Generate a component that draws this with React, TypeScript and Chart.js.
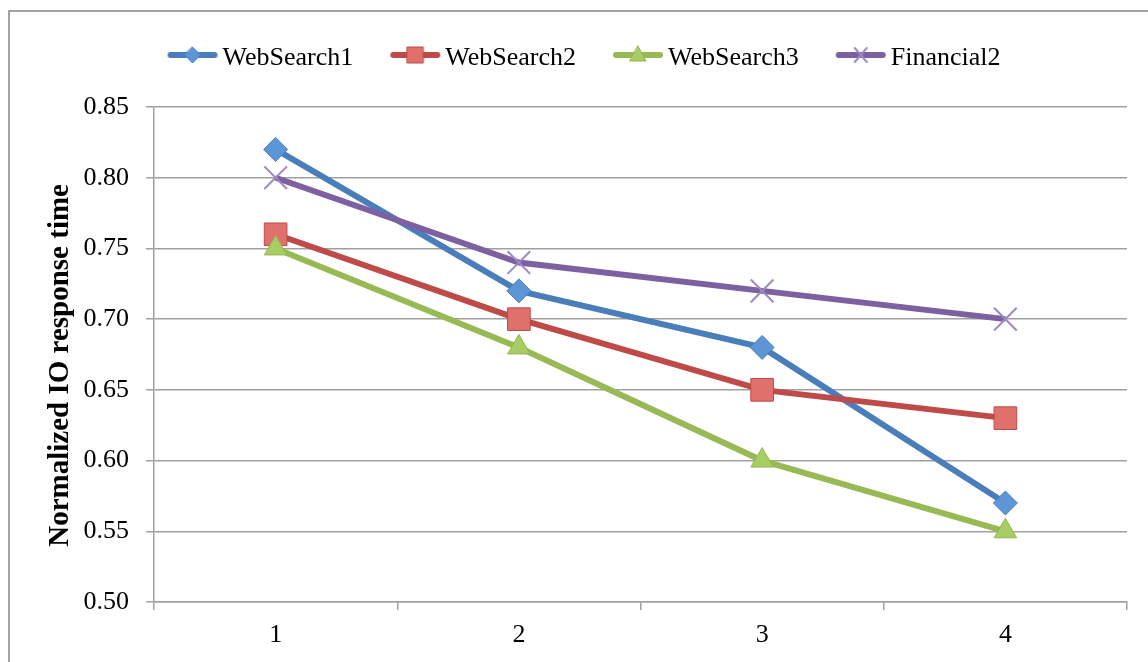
import React, { useEffect, useRef } from 'react';
import { Chart, registerables } from 'chart.js';

Chart.register(...registerables);

const categories = ['1', '2', '3', '4'];
const seriesNames = ['WebSearch1', 'WebSearch2', 'WebSearch3', 'Financial2'];
const webSearch1 = [0.82, 0.72, 0.68, 0.57];
const webSearch2 = [0.76, 0.7, 0.65, 0.63];
const webSearch3 = [0.75, 0.68, 0.6, 0.55];
const financial2 = [0.8, 0.74, 0.72, 0.7];
const yTickValues = [0.5, 0.55, 0.6, 0.65, 0.7, 0.75, 0.8, 0.85];
const yTitle = 'Normalized IO response time';

const lineColors = ['#4a7ebb', '#be4b48', '#98b954', '#7d60a0'];
const markerFills = ['#5d95d6', '#e0706c', '#a8cd64', '#9d87c4'];
const markerStrokes = ['#4a7ebb', '#be4b48', '#94b64f', '#9d87c4'];
const markerKinds = ['diamond', 'square', 'triangle', 'cross'];

const FONT = "'Liberation Serif', 'Times New Roman', serif";
const GRID = '#a0a0a0';

function makeIcon(kind: string, line: string, fill: string, stroke: string) {
  const c = document.createElement('canvas');
  c.width = 52;
  c.height = 30;
  const ctx = c.getContext('2d')!;
  const cx = 26;
  const cy = 12;
  ctx.strokeStyle = line;
  ctx.lineWidth = 6;
  ctx.lineCap = 'round';
  ctx.beginPath();
  ctx.moveTo(4, cy);
  ctx.lineTo(48, cy);
  ctx.stroke();
  ctx.fillStyle = fill;
  ctx.strokeStyle = stroke;
  ctx.lineWidth = 1;
  ctx.beginPath();
  if (kind === 'diamond') {
    ctx.moveTo(cx, cy - 8);
    ctx.lineTo(cx + 8, cy);
    ctx.lineTo(cx, cy + 8);
    ctx.lineTo(cx - 8, cy);
    ctx.closePath();
    ctx.fill();
    ctx.stroke();
  } else if (kind === 'square') {
    ctx.rect(cx - 8, cy - 8, 16, 16);
    ctx.fill();
    ctx.stroke();
  } else if (kind === 'triangle') {
    ctx.moveTo(cx, cy - 9);
    ctx.lineTo(cx + 8, cy + 6);
    ctx.lineTo(cx - 8, cy + 6);
    ctx.closePath();
    ctx.fill();
    ctx.stroke();
  } else {
    ctx.lineWidth = 2;
    ctx.moveTo(cx - 6, cy - 7);
    ctx.lineTo(cx + 6, cy + 7);
    ctx.moveTo(cx + 6, cy - 7);
    ctx.lineTo(cx - 6, cy + 7);
    ctx.stroke();
  }
  return c;
}

const borderPlugin = {
  id: 'outerBorder',
  beforeDraw(chart: any) {
    const ctx = chart.ctx;
    ctx.save();
    ctx.fillStyle = '#a3a3a3';
    ctx.fillRect(8, 10, 2, 700);
    ctx.fillRect(8, 10, 1200, 2);
    ctx.restore();
  },
};

export default function App() {
  const ref = useRef<HTMLCanvasElement | null>(null);

  useEffect(() => {
    if (!ref.current) return;
    const seriesValues = [webSearch1, webSearch2, webSearch3, financial2];
    const chartStyles = ['rectRot', 'rect', 'triangle', 'crossRot'];
    const radii = [12, 16, 13, 16];
    const icons = markerKinds.map((k, i) => makeIcon(k, lineColors[i], markerFills[i], markerStrokes[i]));

    const datasets = seriesNames.map((name, i) => ({
      label: name,
      data: seriesValues[i],
      borderColor: lineColors[i],
      backgroundColor: markerFills[i],
      borderWidth: 6,
      pointStyle: chartStyles[i],
      pointRadius: radii[i],
      pointBackgroundColor: markerFills[i],
      pointBorderColor: markerStrokes[i],
      pointBorderWidth: i === 3 ? 2 : 1,
      tension: 0,
      order: 3 - i,
    }));

    const chart = new Chart(ref.current, {
      type: 'line',
      data: { labels: categories, datasets },
      plugins: [borderPlugin],
      options: {
        responsive: false,
        animation: false,
        layout: { padding: { top: 0, left: 49, right: 21, bottom: 0 } },
        plugins: {
          tooltip: { enabled: false },
          title: {
            display: true,
            text: ' ',
            weight: 500,
            font: { size: 10, lineHeight: 1 },
            padding: { top: 16, bottom: 0 },
          } as any,
          legend: {
            position: 'top',
            labels: {
              usePointStyle: true,
              pointStyleWidth: 34,
              padding: 45,
              color: '#000',
              font: { family: FONT, size: 26 },
              sort: (a: any, b: any) => a.datasetIndex - b.datasetIndex,
              generateLabels: (c: any) => {
                const items = (Chart.defaults.plugins.legend.labels as any).generateLabels(c);
                items.forEach((it: any) => {
                  it.pointStyle = icons[it.datasetIndex];
                });
                return items;
              },
            },
          },
        },
        scales: {
          x: {
            type: 'category',
            offset: true,
            afterFit: (s: any) => {
              s.height = 60;
            },
            grid: {
              offset: true,
              drawOnChartArea: false,
              tickLength: 8,
              color: GRID,
              lineWidth: 1.5,
            },
            border: { color: GRID, width: 1.5 },
            ticks: { color: '#000', font: { family: FONT, size: 26 }, padding: 10 },
          },
          y: {
            min: 0.5,
            max: 0.85,
            afterBuildTicks: (s: any) => {
              s.ticks = yTickValues.map((v) => ({ value: v }));
            },
            afterFit: (s: any) => {
              s.width = 105;
            },
            grid: { color: GRID, lineWidth: 1.5, tickLength: 8 },
            border: { color: GRID, width: 1.5 },
            ticks: {
              color: '#000',
              font: { family: FONT, size: 26 },
              padding: 17,
              callback: (v: any) => Number(v).toFixed(2),
            },
            title: {
              display: true,
              text: yTitle + '   ',
              color: '#000',
              font: { family: FONT, size: 29, weight: 'bold' },
              padding: { top: -6, bottom: 0 },
            },
          },
        },
      } as any,
    });
    return () => chart.destroy();
  }, []);

  return (
    <canvas
      ref={ref}
      width={1148}
      height={662}
      style={{ position: 'fixed', left: 0, top: 0, width: 1148, height: 662 }}
    />
  );
}
